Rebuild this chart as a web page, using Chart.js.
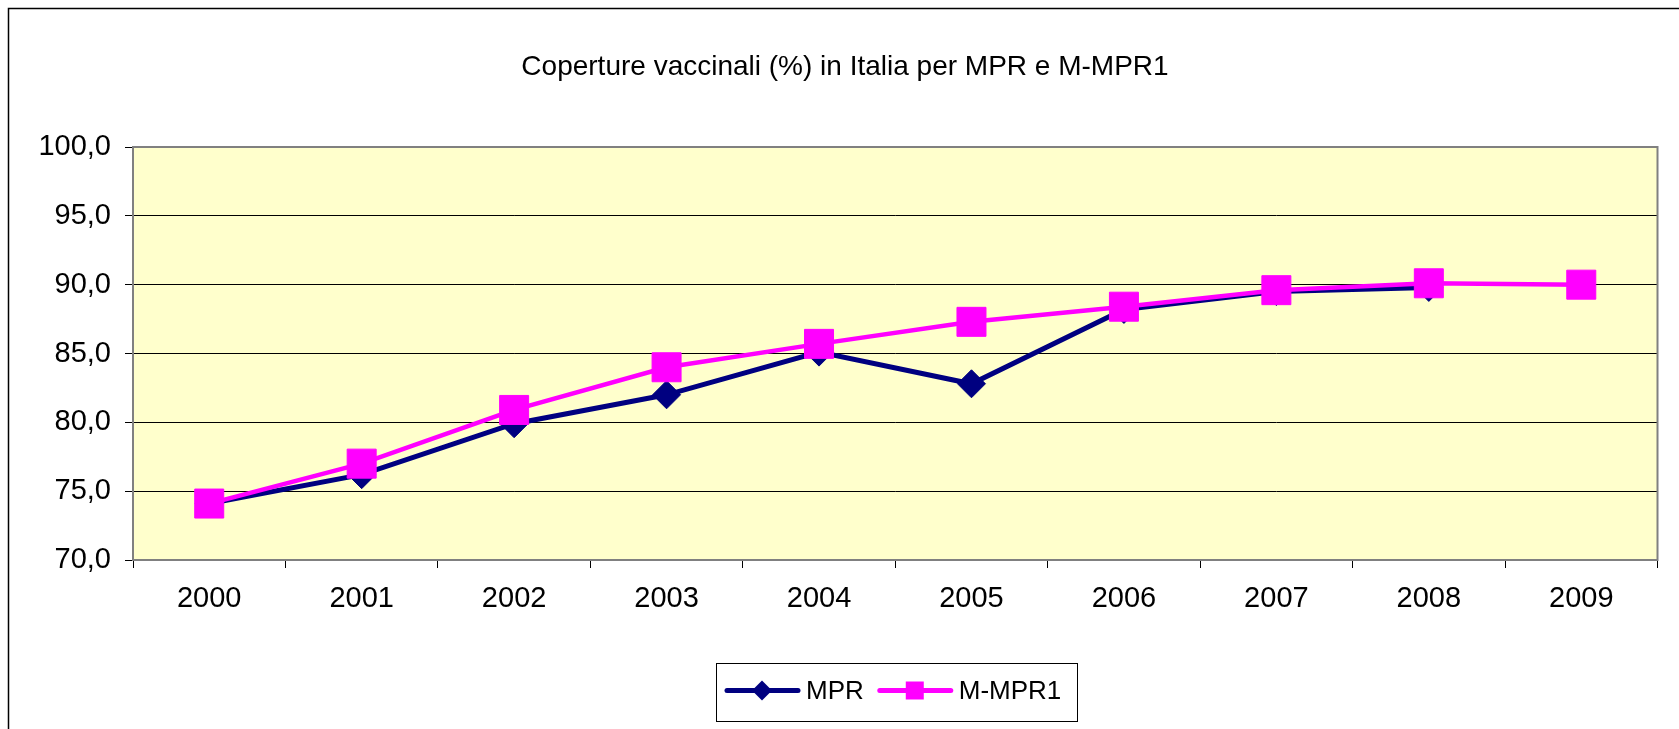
<!DOCTYPE html>
<html>
<head>
<meta charset="utf-8">
<script src="https://cdn.jsdelivr.net/npm/chart.js@4/dist/chart.umd.min.js"></script>
<style>
  html, body { margin: 0; padding: 0; background: #fff; }
  #wrap { width: 1679px; height: 729px; }
</style>
</head>
<body>
<div id="wrap"><canvas id="chart" width="1679" height="729"></canvas></div>
<script>
  // Data
  const years = ['2000', '2001', '2002', '2003', '2004', '2005', '2006', '2007', '2008', '2009'];
  const mpr = [74.1, 76.2, 79.9, 82.0, 85.1, 82.8, 88.2, 89.5, 89.8, null];
  const mmpr1 = [74.1, 77.0, 80.9, 84.0, 85.7, 87.3, 88.4, 89.6, 90.1, 90.0];
  const seriesNames = ['MPR', 'M-MPR1'];
  const chartTitle = 'Coperture vaccinali (%) in Italia per MPR e M-MPR1';

  const FONT = "'Liberation Sans', Arial, sans-serif";

  // Frame, yellow plot background and gray plot border
  const framePlugin = {
    id: 'frame',
    beforeDraw(chart) {
      const ctx = chart.ctx;
      const a = chart.chartArea;
      ctx.save();
      ctx.fillStyle = '#ffffff';
      ctx.fillRect(0, 0, chart.width, chart.height);
      ctx.strokeStyle = '#000000';
      ctx.lineWidth = 1.5;
      ctx.strokeRect(8.5, 8.5, chart.width + 40, chart.height + 40);
      ctx.fillStyle = '#ffffcc';
      ctx.fillRect(a.left, a.top, a.right - a.left, a.bottom - a.top);
      ctx.restore();
    },
    beforeDatasetsDraw(chart) {
      const ctx = chart.ctx;
      const a = chart.chartArea;
      ctx.save();
      ctx.strokeStyle = '#808080';
      ctx.lineWidth = 2;
      ctx.strokeRect(a.left, a.top, a.right - a.left, a.bottom - a.top);
      ctx.restore();
    }
  };

  // Legend box with line + marker, like the spreadsheet legend
  const boxLegend = {
    id: 'boxLegend',
    afterDraw(chart) {
      const ctx = chart.ctx;
      const box = { x: 716.5, y: 663.5, w: 361, h: 58 };
      const cy = box.y + box.h / 2 - 2;
      ctx.save();
      ctx.strokeStyle = '#000000';
      ctx.lineWidth = 1;
      ctx.strokeRect(box.x, box.y, box.w, box.h);
      ctx.font = '26px ' + FONT;
      ctx.textBaseline = 'middle';
      let x = 725;
      chart.data.datasets.forEach(ds => {
        ctx.strokeStyle = ds.borderColor;
        ctx.lineWidth = 5;
        ctx.lineCap = 'round';
        ctx.beginPath();
        ctx.moveTo(x + 2, cy);
        ctx.lineTo(x + 73, cy);
        ctx.stroke();
        const mx = x + 37;
        ctx.fillStyle = ds.pointBackgroundColor;
        ctx.beginPath();
        if (ds.pointStyle === 'rectRot') {
          const r = 10;
          ctx.moveTo(mx - r, cy);
          ctx.lineTo(mx, cy - r);
          ctx.lineTo(mx + r, cy);
          ctx.lineTo(mx, cy + r);
          ctx.closePath();
        } else {
          ctx.rect(mx - 9, cy - 9, 18, 18);
        }
        ctx.fill();
        ctx.fillStyle = '#000000';
        ctx.fillText(ds.label, x + 81, cy + 1);
        x += 81 + ctx.measureText(ds.label).width + 14;
      });
      ctx.restore();
    }
  };

  const ctx = document.getElementById('chart').getContext('2d');
  new Chart(ctx, {
    type: 'line',
    data: {
      labels: years,
      datasets: [{
        label: seriesNames[0],
        data: mpr,
        order: 2,
        borderColor: '#000080',
        backgroundColor: '#000080',
        borderWidth: 5,
        tension: 0,
        pointStyle: 'rectRot',
        pointRadius: 14,
        pointBackgroundColor: '#000080',
        pointBorderColor: '#000080',
        pointBorderWidth: 1
      }, {
        label: seriesNames[1],
        data: mmpr1,
        order: 1,
        borderColor: '#ff00ff',
        backgroundColor: '#ff00ff',
        borderWidth: 4.5,
        tension: 0,
        pointStyle: 'rect',
        pointRadius: 20.5,
        pointBackgroundColor: '#ff00ff',
        pointBorderColor: '#ff00ff',
        pointBorderWidth: 1
      }]
    },
    options: {
      responsive: false,
      animation: false,
      devicePixelRatio: 1,
      events: [],
      layout: { padding: { left: 30, right: 19, top: 0, bottom: 119 } },
      plugins: {
        legend: { display: false },
        tooltip: { enabled: false },
        title: {
          display: true,
          text: chartTitle,
          color: '#000000',
          font: { family: FONT, size: 28, weight: 'normal' },
          padding: { top: 50, bottom: 63.4 }
        }
      },
      scales: {
        x: {
          offset: true,
          afterFit(scale) { scale.height = 50; },
          grid: {
            offset: true,
            drawOnChartArea: false,
            drawTicks: true,
            tickLength: 8,
            color: '#000000'
          },
          border: { display: false },
          ticks: {
            color: '#000000',
            padding: 14,
            maxRotation: 0,
            autoSkip: false,
            font: { family: FONT, size: 29 }
          }
        },
        y: {
          min: 70,
          max: 100,
          afterFit(scale) { scale.width = 103; },
          grid: {
            color: '#000000',
            lineWidth: 1,
            drawTicks: true,
            tickLength: 8
          },
          border: { display: false },
          ticks: {
            stepSize: 5,
            color: '#000000',
            padding: 14,
            font: { family: FONT, size: 29 },
            callback: v => v.toFixed(1).replace('.', ',')
          }
        }
      }
    },
    plugins: [framePlugin, boxLegend]
  });
</script>
</body>
</html>
